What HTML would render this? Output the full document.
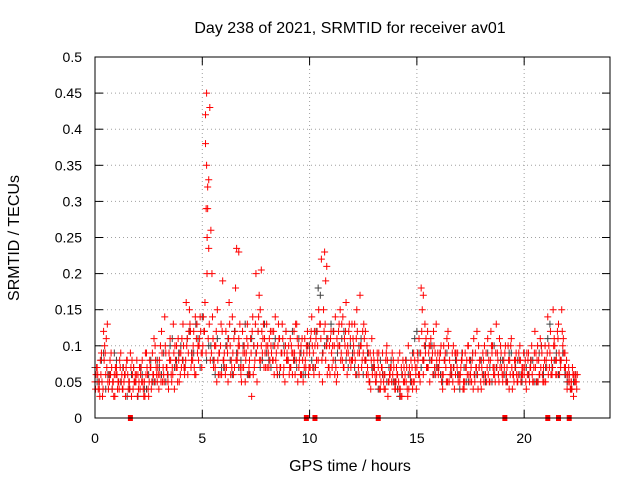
<!DOCTYPE html>
<html><head><meta charset="utf-8"><style>
body{margin:0;background:#fff}
svg text{font-family:"Liberation Sans",sans-serif;font-size:14px;fill:#000}
svg text.big{font-size:16px}
</style></head><body>
<svg id="chart" width="640" height="480" viewBox="0 0 640 480">
<rect width="640" height="480" fill="#fff"/>
<text class="big" x="350" y="33" text-anchor="middle">Day 238 of 2021, SRMTID for receiver av01</text>
<text class="big" transform="translate(19,238) rotate(-90)" text-anchor="middle">SRMTID / TECUs</text>
<text class="big" x="350" y="471" text-anchor="middle">GPS time / hours</text>
<g id="grid"></g>
<g id="gray"></g>
<g id="red"></g>
<rect x="95" y="57" width="515" height="361" fill="none" stroke="#000" stroke-width="1"/>
</svg>
<script>
const yTicks=[0,0.05,0.1,0.15,0.2,0.25,0.3,0.35,0.4,0.45,0.5];
const yTickLabels=["0","0.05","0.1","0.15","0.2","0.25","0.3","0.35","0.4","0.45","0.5"];
const xTicks=[0,5,10,15,20];
const xTickLabels=["0","5","10","15","20"];
const redStep=0.1;
const redOffsets=[0,0.05,0.025,0.075];
const redA=[.05,.07,.04,.09,.12,.06,.05,.08,.04,.06,
.07,.05,.09,.04,.06,.08,.05,.03,.07,.05,
.06,.04,.08,.05,.09,.03,.07,.06,.10,.05,
.08,.12,.06,.09,.05,.11,.07,.04,.10,.08,
.09,.13,.07,.11,.15,.08,.12,.06,.10,.14,
.09,.12,.45,.33,.26,.11,.07,.15,.09,.06,
.08,.12,.05,.10,.14,.07,.235,.11,.06,.09,
.05,.13,.08,.03,.10,.20,.12,.15,.09,.11,
.13,.07,.10,.08,.14,.06,.11,.09,.07,.12,
.08,.11,.06,.09,.13,.07,.10,.05,.08,.12,
.09,.14,.06,.11,.08,.13,.05,.23,.10,.07,
.12,.08,.14,.06,.10,.13,.07,.16,.09,.11,
.08,.13,.15,.06,.10,.09,.12,.07,.05,.11,
.08,.05,.07,.04,.09,.06,.10,.05,.07,.08,
.04,.06,.09,.03,.07,.05,.10,.06,.04,.08,
.07,.11,.18,.06,.09,.12,.05,.08,.10,.13,
.06,.09,.04,.08,.11,.05,.07,.10,.06,.09,
.05,.08,.04,.07,.10,.06,.09,.05,.12,.07,
.04,.08,.06,.11,.05,.09,.07,.13,.06,.10,
.05,.09,.07,.04,.11,.06,.08,.05,.10,.07,
.06,.04,.09,.07,.05,.12,.08,.06,.10,.07,
.05,.14,.09,.06,.11,.08,.13,.07,.10,.09,
.04,.06,.05,.03,.06];
const redB=[.06,.04,.08,.03,.10,.07,.06,.09,.05,.07,
.04,.08,.06,.05,.07,.04,.09,.06,.05,.08,
.05,.07,.04,.09,.06,.08,.05,.11,.07,.06,
.10,.05,.14,.07,.09,.06,.13,.08,.05,.09,
.11,.07,.16,.09,.12,.08,.06,.13,.10,.09,
.14,.38,.29,.43,.20,.08,.12,.06,.10,.19,
.07,.10,.16,.08,.06,.18,.09,.13,.07,.10,
.09,.06,.11,.14,.08,.05,.17,.10,.13,.07,
.10,.08,.12,.06,.09,.13,.07,.11,.05,.09,
.06,.10,.08,.13,.05,.09,.11,.07,.10,.06,
.11,.07,.10,.12,.06,.22,.15,.08,.11,.06,
.07,.10,.05,.12,.08,.14,.10,.06,.13,.08,
.10,.06,.09,.17,.08,.11,.06,.09,.04,.07,
.06,.09,.04,.07,.05,.08,.03,.06,.09,.05,
.07,.05,.03,.08,.06,.04,.07,.05,.09,.06,
.08,.05,.15,.10,.07,.09,.11,.06,.09,.07,
.08,.05,.10,.07,.12,.06,.09,.04,.08,.06,
.07,.04,.09,.06,.08,.05,.11,.07,.04,.08,
.06,.10,.05,.08,.12,.07,.05,.09,.11,.07,
.08,.05,.10,.06,.04,.08,.06,.09,.05,.07,
.08,.06,.05,.10,.07,.09,.05,.11,.06,.08,
.07,.10,.06,.15,.08,.12,.06,.15,.09,.06,
.05,.04,.07,.05,.04];
const redC=[.04,.06,.03,.05,.08,.11,.04,.06,.05,.03,
.06,.04,.05,.07,.03,.06,.04,.08,.05,.06,
.04,.06,.05,.03,.07,.05,.04,.06,.08,.07,
.06,.09,.05,.07,.04,.08,.06,.10,.07,.05,
.07,.10,.08,.06,.13,.09,.07,.11,.08,.12,
.10,.16,.25,.13,.09,.07,.10,.08,.06,.12,
.09,.07,.11,.06,.09,.12,.08,.10,.05,.07,
.08,.10,.06,.12,.07,.09,.14,.08,.11,.09,
.07,.11,.09,.12,.08,.10,.07,.13,.09,.08,
.10,.07,.09,.06,.11,.08,.06,.09,.07,.10,
.07,.10,.12,.08,.15,.11,.09,.13,.06,.10,
.09,.12,.07,.10,.15,.08,.11,.09,.12,.07,
.11,.08,.12,.09,.07,.13,.08,.06,.09,.06,
.07,.06,.09,.05,.06,.04,.08,.06,.05,.07,
.05,.08,.04,.06,.05,.07,.04,.08,.05,.07,
.09,.06,.12,.08,.11,.07,.10,.09,.07,.08,
.07,.10,.06,.09,.05,.08,.06,.07,.09,.05,
.06,.09,.05,.08,.06,.07,.04,.09,.06,.08,
.07,.05,.09,.06,.08,.10,.06,.07,.05,.09,
.06,.10,.05,.08,.07,.05,.09,.06,.08,.06,
.07,.09,.06,.08,.05,.07,.10,.06,.09,.05,
.08,.06,.12,.07,.10,.06,.09,.08,.11,.07,
.06,.05,.04,.06,.05];
const redD=[.07,.05,.06,.04,.09,.13,.05,.07,.03,.06,
.05,.07,.04,.06,.08,.05,.07,.04,.06,.03,
.07,.05,.03,.06,.04,.07,.09,.05,.06,.04,
.05,.07,.10,.06,.08,.05,.09,.07,.11,.06,
.08,.06,.10,.12,.07,.10,.14,.09,.11,.07,
.12,.09,.11,.08,.14,.10,.05,.09,.13,.08,
.06,.09,.13,.07,.11,.08,.10,.07,.12,.09,
.11,.07,.09,.06,.13,.10,.08,.12,.07,.10,
.09,.12,.08,.10,.07,.11,.09,.06,.10,.08,
.07,.09,.12,.08,.10,.06,.08,.11,.09,.07,
.12,.09,.07,.10,.13,.08,.12,.10,.07,.11,
.10,.06,.11,.13,.09,.07,.12,.10,.08,.13,
.09,.11,.07,.10,.12,.08,.10,.05,.08,.09,
.05,.08,.06,.07,.04,.09,.05,.07,.06,.04,
.06,.04,.07,.05,.08,.03,.06,.07,.05,.04,
.06,.09,.08,.13,.07,.10,.08,.12,.06,.09,
.09,.06,.08,.05,.10,.07,.05,.09,.07,.06,
.08,.05,.07,.10,.05,.08,.06,.07,.10,.05,
.09,.06,.07,.05,.10,.06,.09,.08,.07,.06,
.07,.06,.08,.10,.06,.07,.05,.08,.06,.09,
.05,.08,.07,.06,.09,.05,.08,.07,.05,.10,
.09,.07,.08,.10,.06,.11,.08,.12,.07,.08,
.07,.04,.06,.05,.06];
const spikeTimes=[5.15,5.2,5.25,5.18,5.3,5.22,6.7,7.75,10.8,10.75,15.3];
const spikeValues=[.42,.35,.32,.29,.235,.2,.23,.205,.21,.19,.17];
const zeroTimes=[1.65,9.85,10.25,13.2,19.1,21.1,21.6,22.1];
const grayStep=0.2;
const grayOffsets=[0,0.1];
const grayA=[.07,.05,.09,.06,.04,.08,.05,.06,.04,.07,
.03,.06,.04,.08,.05,.07,.09,.06,.11,.08,
.10,.07,.12,.09,.11,.14,.08,.10,.06,.09,
.07,.11,.06,.09,.08,.13,.06,.10,.12,.08,
.09,.07,.11,.06,.10,.08,.12,.07,.09,.06,
.10,.07,.18,.09,.11,.13,.08,.10,.12,.07,
.09,.06,.11,.08,.05,.07,.04,.06,.05,.08,
.05,.03,.07,.06,.09,.12,.07,.10,.08,.06,
.07,.05,.09,.06,.08,.04,.07,.05,.09,.06,
.08,.05,.07,.10,.06,.08,.05,.09,.07,.06,
.09,.06,.08,.05,.10,.07,.13,.08,.06,.09,
.05,.04,.06];
const grayB=[.05,.08,.04,.06,.09,.05,.07,.03,.06,.05,
.07,.04,.06,.05,.08,.06,.05,.10,.07,.09,
.08,.11,.09,.13,.07,.12,.10,.08,.11,.07,
.10,.08,.12,.07,.10,.06,.11,.09,.07,.13,
.08,.10,.06,.09,.12,.07,.08,.11,.06,.10,
.08,.12,.17,.10,.07,.12,.09,.11,.08,.10,
.07,.10,.06,.09,.07,.05,.08,.06,.07,.05,
.04,.06,.08,.05,.11,.09,.08,.07,.10,.07,
.06,.08,.05,.07,.06,.09,.05,.08,.06,.07,
.06,.09,.05,.07,.08,.06,.09,.06,.08,.05,
.07,.08,.05,.09,.06,.11,.07,.09,.08,.06,
.06,.05];

const NS="http://www.w3.org/2000/svg";
const X0=95,X1=610,Y0=418,Y1=57,XMAX=24,YMAX=0.5;
function xs(t){return X0+(X1-X0)*t/XMAX;}
function ys(v){return Y0-(Y0-Y1)*v/YMAX;}
function mk(tag,attrs,parent){const e=document.createElementNS(NS,tag);for(const k in attrs)e.setAttribute(k,attrs[k]);parent.appendChild(e);return e;}
const grid=document.getElementById('grid');
yTicks.forEach((v,i)=>{
  const y=ys(v);
  if(i>0&&i<yTicks.length-1){const l=mk('line',{x1:X0,x2:X1,y1:y,y2:y,stroke:'#a0a0a0','stroke-dasharray':'1,3'},grid);
  
  }
  mk('line',{x1:X0,x2:X0+8,y1:y,y2:y,stroke:'#000'},grid);
  mk('line',{x1:X1-8,x2:X1,y1:y,y2:y,stroke:'#000'},grid);
  const t=mk('text',{x:X0-13,y:y+5,'text-anchor':'end'},grid);
  t.textContent=yTickLabels[i];
  
  
});
xTicks.forEach((v,i)=>{
  const x=xs(v);
  if(i>0){const l=mk('line',{x1:x,x2:x,y1:Y1,y2:Y0,stroke:'#a0a0a0','stroke-dasharray':'1,3'},grid);
  
  }
  mk('line',{x1:x,x2:x,y1:Y0,y2:Y0-8,stroke:'#000'},grid);
  mk('line',{x1:x,x2:x,y1:Y1,y2:Y1+8,stroke:'#000'},grid);
  const t=mk('text',{x:x,y:Y0+25,'text-anchor':'middle'},grid);
  t.textContent=xTickLabels[i];
  
  
});
function plus(g,t,v,c){
  const x=xs(t),y=ys(v);
  const p=mk('path',{d:`M${x-3.5},${y}h7M${x},${y-3.5}v7`,stroke:c,'stroke-width':1,fill:'none'},g);
  
  
}
const gg=document.getElementById('gray'),rg=document.getElementById('red');
[grayA,grayB].forEach((arr,k)=>arr.forEach((v,i)=>plus(gg,grayOffsets[k]+i*grayStep,v,'#404040')));
[redA,redB,redC,redD].forEach((arr,k)=>arr.forEach((v,i)=>plus(rg,redOffsets[k]+i*redStep,v,'#ff0000')));
spikeTimes.forEach((t,i)=>plus(rg,t,spikeValues[i],'#ff0000'));
zeroTimes.forEach(t=>{
  const r=mk('rect',{x:xs(t)-2.5,y:Y0-3,width:5,height:6,fill:'#ff0000'},rg);
  
  
});
</script>
</body></html>
